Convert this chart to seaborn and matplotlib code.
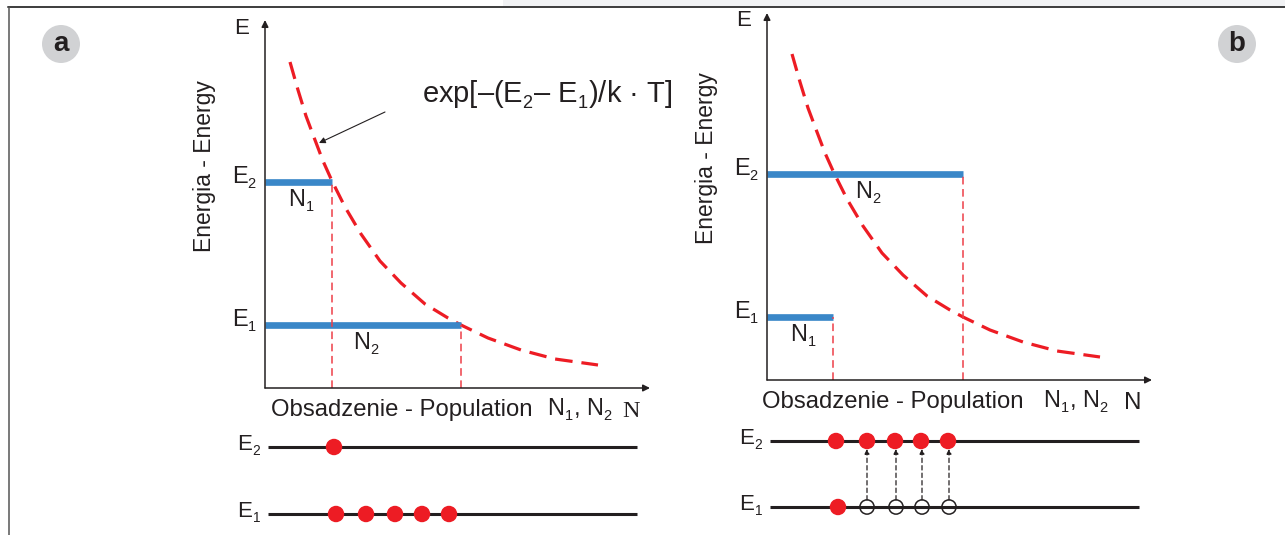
import matplotlib
matplotlib.use("Agg")
import matplotlib.pyplot as plt
from matplotlib.patches import Circle, Rectangle
import seaborn as sns

try:
    # smaller, lower subscripts, closer to the original artwork
    from matplotlib import _mathtext
    _mathtext.SHRINK_FACTOR = 0.62
    _mathtext.FontConstantsBase.sub1 = 0.42
    _mathtext.FontConstantsBase.sub2 = 0.55
except Exception:
    pass

# ---- data (arbitrary units, measured from the axis origin) ----
# Boltzmann curve
curve_n = [25, 33, 41, 50, 58, 67, 80, 96, 115, 136, 160, 183, 196, 223, 256, 290, 333]
curve_e = [326, 298, 272, 248, 227, 207, 181, 154, 127, 105, 84, 70, 63, 50, 38, 29, 23]

level_names = ["E$_1$", "E$_2$"]
level_e = [63, 206]

# population on E1 / E2
pop_eq = [196, 67]      # a: equilibrium
pop_inv = [66, 196]     # b: inversion
tags_eq = ["N$_2$", "N$_1$"]
tags_inv = ["N$_1$", "N$_2$"]

# particles along the levels in the bottom sketches
a_e2 = [69]
a_e1 = [71, 101, 130, 157, 184]
b_e2 = [69, 100, 128, 154, 181]
b_e1 = [71]
b_holes = [100, 129, 155, 182]
level_span = [3, 372]

W, H = 1285, 535
RED = "#ed1c24"
BLUE = "#3a87c8"
INK = "#231f20"

sns.set_theme(style="white")
plt.rcParams["font.family"] = ["Liberation Sans", "DejaVu Sans"]
plt.rcParams["mathtext.fontset"] = "custom"
plt.rcParams["mathtext.rm"] = "Liberation Sans"
plt.rcParams["mathtext.default"] = "regular"
plt.rcParams["text.color"] = INK

fig = plt.figure(figsize=(W / 100, H / 100), dpi=100)


def px_axes(x0, x1, ytop, ybot, z=1):
    ax = fig.add_axes([x0 / W, 1 - ybot / H, (x1 - x0) / W, (ybot - ytop) / H])
    ax.set_axis_off()
    ax.set_zorder(z)
    return ax


# frame + panel badges
bg = px_axes(0, W, 0, H, z=0)
bg.set_xlim(0, W)
bg.set_ylim(H, 0)
bg.add_patch(Rectangle((503, 0), W - 503, 6.5, color="#f1f2f4", lw=0))
bg.plot([8, W], [7, 7], color="#3c3c3c", lw=1.4)
bg.plot([8.5, 8.5], [7, H], color="#555555", lw=1.1)
for cx, letter in [(61, "a"), (1237, "b")]:
    bg.add_patch(Circle((cx, 44), 19, color="#d1d2d4", lw=0))
    bg.text(cx, 44, letter, ha="center", va="center", fontsize=20, fontweight="bold")


def energy_panel(x0, x1, ytop, y0, pop, tags, xlab_x, nn_x, n_font):
    ax = px_axes(x0, x1, ytop, y0)
    ax.set_xlim(0, x1 - x0)
    ax.set_ylim(0, y0 - ytop)
    top = y0 - ytop
    for end in [(1, 0), (0, 1)]:
        ax.annotate("", xy=end, xytext=(0, 0), xycoords="axes fraction",
                    arrowprops=dict(arrowstyle="-|>", color=INK, lw=1.1,
                                    mutation_scale=10, shrinkA=0, shrinkB=0))
    sns.lineplot(x=curve_n, y=curve_e, ax=ax, sort=False, color=RED, lw=2.3,
                 linestyle=(0, (5.5, 2.8)), clip_on=False)
    ax.hlines(level_e, 0, pop, colors=BLUE, lw=4.8, clip_on=False)
    ax.vlines(pop, 0, level_e, colors="#ee3e48", lw=1.1,
              linestyles=(0, (5, 3)), clip_on=False)
    for e, name in zip(level_e, level_names):
        ax.text(-8, e - 2, name, ha="right", va="baseline", fontsize=17)
    for n, e, tag in zip(pop, level_e, tags):
        ax.text(n / 2 + 3, e - 25, tag, ha="center", va="baseline", fontsize=17)
    ax.text(-23, top - 8, "E", ha="center", va="center", fontsize=16)
    ax.text(-61, 222, "Energia - Energy", rotation=90, ha="center", va="center",
            fontsize=16.5)
    ax.text(xlab_x, -28, "Obsadzenie - Population", ha="left", va="baseline",
            fontsize=17.2)
    ax.text(nn_x, -28, "N$_1$, N$_2$", ha="left", va="baseline", fontsize=17)
    ax.text(366, -29, "N", ha="center", va="baseline", fontsize=17.5,
            family=n_font)
    return ax


def particle_panel(x0, x1, y_e2, y_e1, up, low, holes=()):
    unit = y_e1 - y_e2
    ax = px_axes(x0, x1, y_e2 - 0.35 * unit, y_e1 + 0.35 * unit, z=2)
    ax.set_xlim(0, x1 - x0)
    ax.set_ylim(-0.35, 1.35)
    ax.hlines([1, 0], level_span[0], level_span[1], colors=INK, lw=2.2)
    for row, name in [(1, "E$_2$"), (0, "E$_1$")]:
        ax.text(-4, row - 0.06, name, ha="right", va="baseline", fontsize=16)
    sns.scatterplot(x=up, y=[1] * len(up), ax=ax, color=RED, s=140,
                    edgecolor="none", zorder=4, clip_on=False)
    sns.scatterplot(x=low, y=[0] * len(low), ax=ax, color=RED, s=140,
                    edgecolor="none", zorder=4, clip_on=False)
    if len(holes):
        ax.scatter(holes, [0] * len(holes), s=105, facecolors="none",
                   edgecolors=INK, linewidths=1.1, zorder=4)
        for x in holes:
            ax.annotate("", xy=(x, 0.88), xytext=(x, 0.106),
                        arrowprops=dict(arrowstyle="-|>", color=INK, lw=0.9,
                                        linestyle=(0, (3.5, 2.5)),
                                        mutation_scale=7, shrinkA=0, shrinkB=0))
    return ax


ax_a = energy_panel(265, 650, 20, 388, pop_eq, tags_eq, 6, 282, "Liberation Serif")
ax_a.text(157, 286, "exp[–(E$_2$– E$_1$)/k · T]", ha="left", va="baseline",
          fontsize=21)
ax_a.annotate("", xy=(54, 245), xytext=(120, 276),
              arrowprops=dict(arrowstyle="-|>", color=INK, lw=0.8,
                              mutation_scale=9, shrinkA=0, shrinkB=0))
energy_panel(767, 1152, 13, 380, pop_inv, tags_inv, -5, 276, "Liberation Sans")

particle_panel(265, 650, 447, 514, a_e2, a_e1)
particle_panel(767, 1152, 441, 507, b_e2, b_e1, b_holes)

fig.savefig("out.png", dpi=100)
